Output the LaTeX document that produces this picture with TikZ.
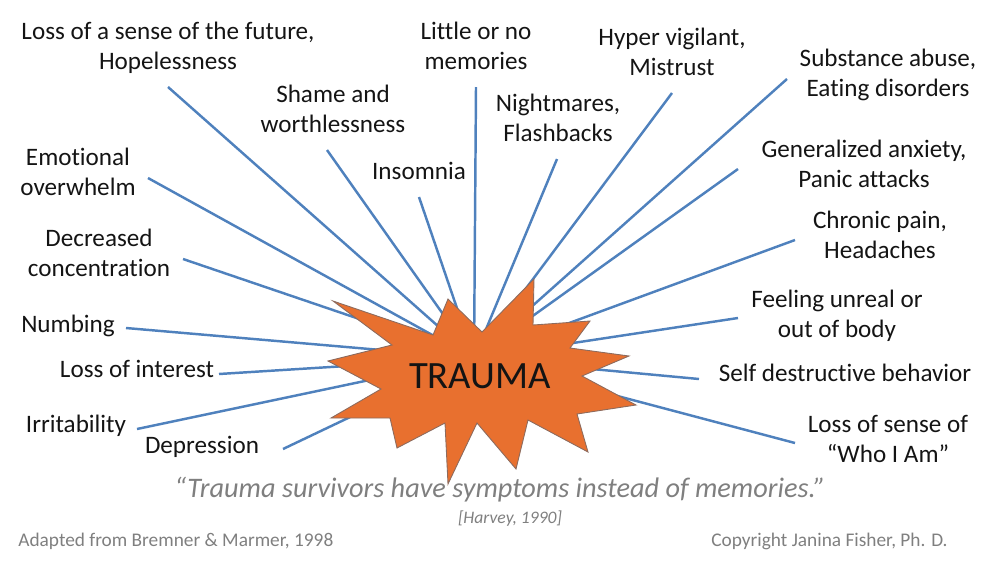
\documentclass[tikz,border=0pt]{standalone}
\usepackage{fontspec}
\setmainfont{Carlito}[Ligatures={NoCommon}]
\definecolor{Ink}{HTML}{141414}
\definecolor{Spoke}{HTML}{4F81BD}
\definecolor{Burst}{HTML}{E8702F}
\definecolor{BurstEdge}{HTML}{8C6B5E}
\definecolor{Muted}{HTML}{7F7F7F}
\tikzset{
  symptom/.style={align=center,inner sep=0pt,text=Ink,font=\fontsize{14.3}{17.1}\selectfont},
  core/.style={inner sep=0pt,text=Ink,font=\fontsize{22}{26}\selectfont},
  quote/.style={inner sep=0pt,text=Muted,font=\fontsize{16.1}{19}\selectfont\itshape},
  cite/.style={inner sep=0pt,text=Muted,font=\fontsize{10}{12}\selectfont\itshape},
  credit/.style={inner sep=0pt,text=Muted,font=\fontsize{11}{13}\selectfont},
  spoke/.style={draw=Spoke,line width=1.4pt},
  burst/.style={draw=BurstEdge,fill=Burst,line width=.5pt,line join=miter}
}
\begin{document}
\begin{tikzpicture}[x=0.02cm,y=-0.02cm]
  \useasboundingbox (0,0) rectangle (1000,562);
  % symptoms round the burst
  \node[symptom] (future) at (168,48) {Loss of a sense of the future,\\Hopelessness};
  \node[symptom] (memories) at (476,46) {Little or no\\memories};
  \node[symptom] (vigilant) at (672,52) {Hyper vigilant,\\Mistrust};
  \node[symptom] (substance) at (888,75) {Substance abuse,\\Eating disorders};
  \node[symptom] (shame) at (333,109) {Shame and\\worthlessness};
  \node[symptom] (nightmares) at (558,118) {Nightmares,\\Flashbacks};
  \node[symptom] (insomnia) at (419,171) {Insomnia};
  \node[symptom] (anxiety) at (864,164) {Generalized anxiety,\\Panic attacks};
  \node[symptom] (overwhelm) at (78,172) {Emotional\\overwhelm};
  \node[symptom] (pain) at (880,235) {Chronic pain,\\Headaches};
  \node[symptom] (concentration) at (99,253) {Decreased\\concentration};
  \node[symptom] (unreal) at (837,316) {Feeling unreal or\\out of body};
  \node[symptom] (numbing) at (68,326) {Numbing};
  \node[symptom] (interest) at (137,369) {Loss of interest};
  \node[symptom] (selfharm) at (845,373) {Self destructive behavior};
  \node[symptom] (irritability) at (76,426) {Irritability};
  \node[symptom] (depression) at (202,447) {Depression};
  \node[symptom] (identity) at (888,439) {Loss of sense of\\“Who I Am”};
  % spoke ends next to the labels
  \coordinate (hub) at (474,358);
  \coordinate (future-tip) at (168,87);
  \coordinate (memories-tip) at (476,87);
  \coordinate (vigilant-tip) at (672,93);
  \coordinate (substance-tip) at (787,79);
  \coordinate (shame-tip) at (327,150);
  \coordinate (nightmares-tip) at (557,159);
  \coordinate (insomnia-tip) at (419,197);
  \coordinate (anxiety-tip) at (738,169);
  \coordinate (overwhelm-tip) at (148,178);
  \coordinate (pain-tip) at (795,240);
  \coordinate (concentration-tip) at (183,259);
  \coordinate (unreal-tip) at (738,318);
  \coordinate (numbing-tip) at (126,328);
  \coordinate (interest-tip) at (219,374);
  \coordinate (selfharm-tip) at (699,379);
  \coordinate (irritability-tip) at (137,429);
  \coordinate (depression-tip) at (283,449);
  \coordinate (identity-tip) at (795,443);
  \draw[spoke] (future-tip) -- (hub);
  \draw[spoke] (memories-tip) -- (hub);
  \draw[spoke] (vigilant-tip) -- (hub);
  \draw[spoke] (substance-tip) -- (hub);
  \draw[spoke] (shame-tip) -- (hub);
  \draw[spoke] (nightmares-tip) -- (hub);
  \draw[spoke] (insomnia-tip) -- (hub);
  \draw[spoke] (anxiety-tip) -- (hub);
  \draw[spoke] (overwhelm-tip) -- (hub);
  \draw[spoke] (pain-tip) -- (hub);
  \draw[spoke] (concentration-tip) -- (hub);
  \draw[spoke] (unreal-tip) -- (hub);
  \draw[spoke] (numbing-tip) -- (hub);
  \draw[spoke] (interest-tip) -- (hub);
  \draw[spoke] (selfharm-tip) -- (hub);
  \draw[spoke] (irritability-tip) -- (hub);
  \draw[spoke] (depression-tip) -- (hub);
  \draw[spoke] (identity-tip) -- (hub);
  % the burst on top of the spokes
  \draw[burst] (333,301) -- (433,335) -- (448,299) -- (482,332) -- (534,279) -- (533,325)
    -- (590,321) -- (570,348) -- (629,356) -- (582,376) -- (636,405) -- (577,414)
    -- (588,452) -- (528,420) -- (516,469) -- (477,423) -- (448,484) -- (445,423)
    -- (397,448) -- (390,418) -- (331,418) -- (381,389) -- (328,361) -- (392,345) -- cycle;
  \node[core] (trauma) at (480,376) {TRAUMA};
  % quotation and credits
  \node[quote] (quotation) at (500,490) {“Trauma survivors have symptoms instead of memories.”};
  \node[cite] (harvey) at (510,519) {[Harvey, 1990]};
  \node[credit,anchor=west] (adapted) at (18,541) {Adapted from Bremner \& Marmer, 1998};
  \node[credit,anchor=east] (copyright) at (948,541) {Copyright Janina Fisher, Ph. D.};
\end{tikzpicture}
\end{document}
